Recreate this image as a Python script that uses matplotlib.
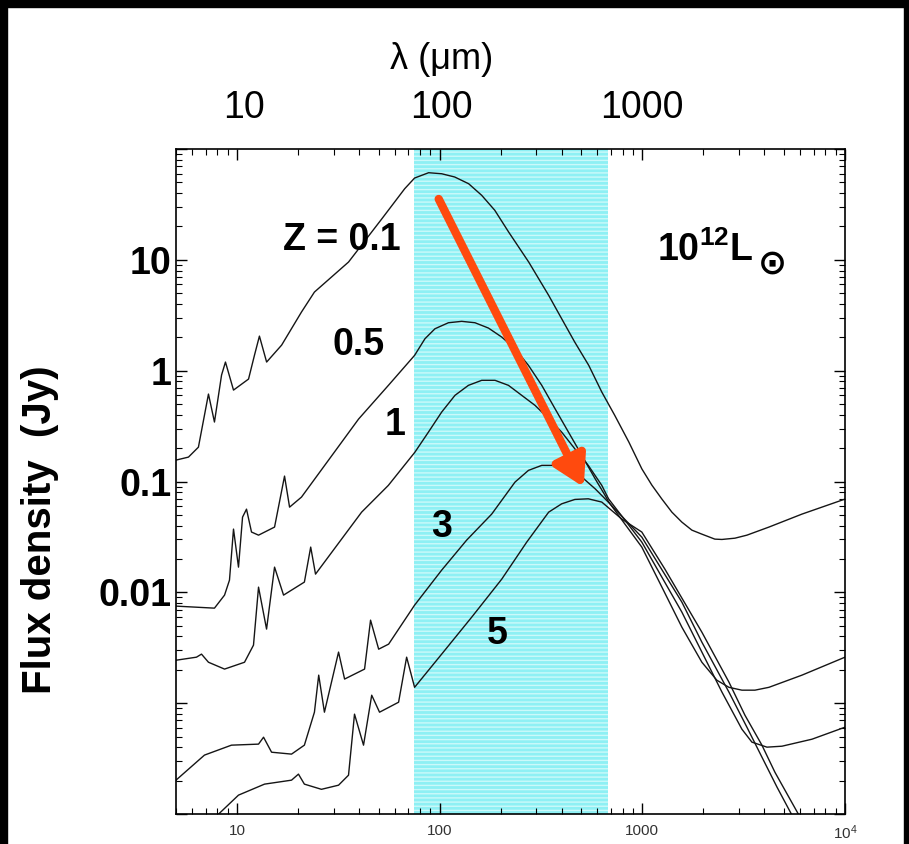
import matplotlib
matplotlib.use('Agg')
import matplotlib.pyplot as plt
from matplotlib.patches import Rectangle
from matplotlib.transforms import blended_transform_factory
from matplotlib.ticker import LogLocator, FuncFormatter, NullFormatter

plt.rcParams['font.family'] = ['Liberation Sans', 'DejaVu Sans']
plt.rcParams['mathtext.fontset'] = 'custom'
plt.rcParams['mathtext.rm'] = 'Liberation Sans'
plt.rcParams['mathtext.bf'] = 'Liberation Sans:bold'
plt.rcParams['mathtext.it'] = 'Liberation Sans:italic'

# ---------------- data (wavelength in micron, flux density in Jy) ----------------
lam_z01 = [5.0, 5.76, 6.45, 7.23, 7.74, 8.39, 8.77, 9.61, 11.4, 12.2, 12.9, 14.0, 16.6, 20.8, 24.1,
           35.5, 51.7, 59.9, 67.2, 75.2, 88.2, 102.3, 118.6, 139, 161.2, 187, 219, 275, 345, 400,
           464, 544, 631, 731, 858, 994, 1114, 1249, 1399, 1567, 1756, 1967, 2280, 2470, 2863,
           3281, 4214, 6133, 10000]
flux_z01 = [0.156, 0.166, 0.204, 0.615, 0.344, 0.913, 1.196, 0.668, 0.840, 1.383, 2.05, 1.196, 1.70,
            3.38, 5.12, 9.55, 23.3, 33.2, 43.8, 54.7, 61.1, 59.8, 55.9, 48.6, 38.2, 28.0, 17.8, 9.55,
            4.78, 2.94, 1.81, 1.116, 0.641, 0.395, 0.2268, 0.1302, 0.0928, 0.0694, 0.0529, 0.0430,
            0.0364, 0.0335, 0.0302, 0.0300, 0.0308, 0.0328, 0.0388, 0.0508, 0.0694]

lam_z05 = [5.0, 7.74, 8.68, 9.18, 9.61, 10.17, 10.65, 11.14, 11.79, 12.77, 15.32, 17.16, 18.17, 20.8,
           39.8, 56.0, 75.2, 84.6, 94.8, 110.4, 128.4, 149.4, 174, 202.4, 235.4, 274.2, 319, 371,
           432, 503, 585, 655, 683, 994, 1249, 1567, 1967, 2333, 2674, 3100, 3594, 4214, 6133, 10000]
flux_z05 = [0.00751, 0.00720, 0.00944, 0.01288, 0.0372, 0.01688, 0.0477, 0.0563, 0.0350, 0.0328,
            0.0388, 0.1119, 0.0587, 0.0723, 0.366, 0.741, 1.374, 1.941, 2.389, 2.706, 2.786, 2.706,
            2.424, 2.01, 1.576, 1.116, 0.737, 0.453, 0.279, 0.172, 0.1058, 0.0749, 0.0652, 0.0256,
            0.01114, 0.00485, 0.00234, 0.00161, 0.00139, 0.00131, 0.00131, 0.00139, 0.00179, 0.00260]

lam_z1 = [5.0, 6.31, 6.68, 7.23, 8.68, 10.89, 12.06, 12.77, 13.99, 15.32, 16.97, 21.5, 23.1, 24.4,
          41.2, 55.8, 75.5, 88.0, 102.3, 119, 138.6, 161.2, 187.6, 218.5, 254, 295.6, 345.5, 400,
          464.7, 541, 631, 681, 994, 1567, 1967, 2470, 3100, 3473, 4120, 4886, 6871, 10000]
flux_z1 = [0.00244, 0.00260, 0.00277, 0.00234, 0.00203, 0.00234, 0.00334, 0.01114, 0.00466, 0.01688,
           0.00944, 0.01237, 0.0256, 0.0146, 0.0529, 0.0922, 0.184, 0.279, 0.423, 0.599, 0.737,
           0.818, 0.818, 0.737, 0.599, 0.486, 0.368, 0.279, 0.197, 0.1398, 0.0922, 0.0698, 0.0284,
           0.00663, 0.00289, 0.00126, 0.000582, 0.000445, 0.000401, 0.000409, 0.000473, 0.000607]

lam_z3 = [5.0, 6.91, 9.39, 12.77, 13.52, 14.81, 18.58, 21.5, 24.1, 25.3, 27.0, 31.7, 33.95, 42.6,
          45.6, 50.0, 56.0, 75.2, 102.3, 135.9, 180.6, 235.4, 274.2, 319, 371, 432, 503, 585, 655,
          994, 1567, 1967, 2674, 3281, 3891, 4617, 5474, 5927]
flux_z3 = [0.000202, 0.000340, 0.000418, 0.000427, 0.000493, 0.000361, 0.000347, 0.000418, 0.000829,
           0.00179, 0.000829, 0.00289, 0.00165, 0.00203, 0.00561, 0.00307, 0.00341, 0.00766,
           0.01586, 0.0296, 0.0508, 0.0988, 0.1260, 0.1398, 0.1398, 0.1302, 0.1096, 0.0859, 0.0698,
           0.0315, 0.00816, 0.00355, 0.00126, 0.000607, 0.000326, 0.000175, 0.0000976, 0.0000714]

lam_z5 = [6.68, 8.10, 10.17, 13.67, 18.58, 20.1, 21.5, 26.1, 31.7, 35.5, 38.0, 42.1, 46.2, 50.5,
          62.7, 68.7, 75.2, 102.3, 143.9, 202.4, 268.9, 345, 400, 464.7, 541, 631, 792, 994, 1292,
          1967, 2674, 3208, 3891, 4511, 5927, 6494]
flux_z5 = [0.0000618, 0.0000996, 0.000148, 0.000186, 0.000202, 0.000229, 0.000186, 0.000167, 0.000182,
           0.000224, 0.000796, 0.000418, 0.00118, 0.000829, 0.00102, 0.00260, 0.00139, 0.00277,
           0.00597, 0.01315, 0.0284, 0.0529, 0.0629, 0.0689, 0.0698, 0.0652, 0.0458, 0.0350, 0.0162,
           0.00437, 0.00155, 0.000779, 0.000418, 0.000238, 0.0000976, 0.0000685]

curve_labels = ['Z = 0.1', '0.5', '1', '3', '5']
label_lam = [32.8, 39.8, 59.9, 102.3, 193.4]
label_flux = [15.1, 1.70, 0.323, 0.0388, 0.00419]

band_range = [75, 680]               # shaded wavelength band (micron)
arrow_start = (98.9, 35.4)
arrow_end = (514, 0.089)

x_ticks = [10, 100, 1000, 10000]
x_ticklabels = ['10', '100', '1000', r'$10^4$']
y_labeled = {10: '10', 1: '1', 0.1: '0.1', 0.01: '0.01'}
top_label_pos = [10.8, 102, 995]
top_ticklabels = ['10', '100', '1000']

# ---------------- figure ----------------
fig = plt.figure(figsize=(9.09, 8.44), dpi=100)
fig.patch.set_facecolor('white')
ax = fig.add_axes([176 / 909, 30 / 844, 669 / 909, 665 / 844])
ax.set_xscale('log')
ax.set_yscale('log')
ax.set_xlim(5, 1e4)
ax.set_ylim(1e-4, 1e2)

ax.axvspan(band_range[0], band_range[1], facecolor='#8ef0f4', edgecolor='#ccf9fa',
           hatch='----', linewidth=0, zorder=0)

for lam, flux in [(lam_z01, flux_z01), (lam_z05, flux_z05), (lam_z1, flux_z1),
                  (lam_z3, flux_z3), (lam_z5, flux_z5)]:
    ax.plot(lam, flux, color='#151515', lw=1.0, zorder=2)

for t, lx, ly in zip(curve_labels, label_lam, label_flux):
    ax.text(lx, ly, t, fontsize=27, fontweight='bold', ha='center', va='center', zorder=3)

ax.text(1179, 9.75, r'$\mathbf{10^{12}L}$', fontsize=27, ha='left', va='baseline', zorder=3)
ax.text(4380, 9.17, '⊙', fontsize=25, fontweight='bold', family='DejaVu Sans',
        ha='center', va='center', zorder=3)

ax.annotate('', xy=arrow_end, xytext=arrow_start,
            arrowprops=dict(arrowstyle='-|>,head_length=0.6,head_width=0.35', color='#ff4a0e',
                            lw=6, shrinkA=0, shrinkB=0, mutation_scale=30), zorder=4)

# ticks
ax.tick_params(which='both', direction='in', top=True, right=True)
ax.tick_params(which='major', length=8, width=1.0)
ax.tick_params(which='minor', length=4, width=0.8)
ax.xaxis.set_major_locator(LogLocator(base=10, numticks=10))
ax.xaxis.set_minor_locator(LogLocator(base=10, subs=range(2, 10), numticks=20))
ax.yaxis.set_major_locator(LogLocator(base=10, numticks=10))
ax.yaxis.set_minor_locator(LogLocator(base=10, subs=range(2, 10), numticks=20))
ax.xaxis.set_minor_formatter(NullFormatter())
ax.yaxis.set_minor_formatter(NullFormatter())
ax.set_xticks(x_ticks)
ax.set_xticklabels(x_ticklabels)
ax.tick_params(axis='x', which='major', labelsize=11, pad=7, labelcolor='#333333')


def ylab(v, pos):
    for k, s in y_labeled.items():
        if abs(v - k) / k < 1e-6:
            return s
    return ''


ax.yaxis.set_major_formatter(FuncFormatter(ylab))
ax.tick_params(axis='y', which='major', labelsize=27, pad=3)
for lbl in ax.get_yticklabels():
    lbl.set_fontweight('bold')
for sp in ax.spines.values():
    sp.set_linewidth(1.2)

# top wavelength scale labels and title
trans = blended_transform_factory(ax.transData, ax.transAxes)
for v, s in zip(top_label_pos, top_ticklabels):
    ax.text(v, 1.062, s, transform=trans, fontsize=27, ha='center', va='center')
ax.text(102, 1.134, 'λ (μm)', transform=trans, fontsize=26, ha='center', va='center')

fig.text(40 / 909, 1 - 530 / 844, 'Flux density  (Jy)', rotation=90, fontsize=29,
         fontweight='bold', ha='center', va='center')

# black frame of the slide
fig.add_artist(Rectangle((0, 1 - 7 / 844), 1, 7 / 844, transform=fig.transFigure,
                         color='black', zorder=10))
fig.add_artist(Rectangle((0, 0), 7 / 909, 1, transform=fig.transFigure, color='black', zorder=10))
fig.add_artist(Rectangle((904 / 909, 0), 5 / 909, 1, transform=fig.transFigure,
                         color='black', zorder=10))

fig.savefig('out.png', dpi=100)
